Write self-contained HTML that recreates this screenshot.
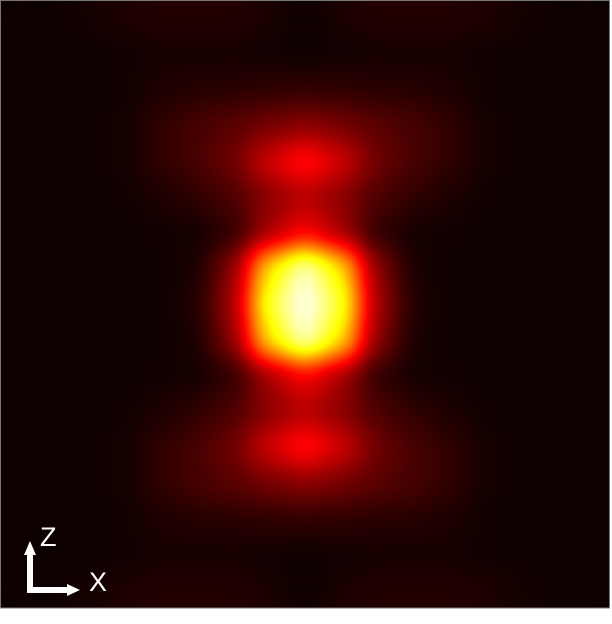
<!DOCTYPE html>
<html><head><meta charset="utf-8"><style>
html,body{margin:0;padding:0;background:#fff;width:612px;height:624px;overflow:hidden}
svg{display:block;overflow:hidden}
text{font-family:"Liberation Sans",sans-serif;fill:#fff}
</style></head><body>
<svg id="chart" width="612" height="624" viewBox="0 0 612 624">
<defs>
<filter id="hotblur" x="0" y="0" width="610" height="608" filterUnits="userSpaceOnUse" color-interpolation-filters="sRGB">
<feGaussianBlur stdDeviation="13" edgeMode="duplicate" result="b"/>
<feComponentTransfer in="b">
<feFuncR id="fr" type="table" tableValues="0 1"/>
<feFuncG id="fg" type="table" tableValues="0 1"/>
<feFuncB id="fb" type="table" tableValues="0 1"/>
<feFuncA type="linear" slope="0" intercept="1"/>
</feComponentTransfer>
</filter>
</defs>
<rect x="0" y="0" width="610" height="608" fill="#0a0000"/>
<g id="cells" filter="url(#hotblur)"></g>
<rect x="0.5" y="0.5" width="609" height="607.5" fill="none" stroke="#777" stroke-width="1"/>
<g>
<rect x="27" y="553" width="6" height="40" fill="#fff"/>
<polygon points="30,541 24,555 36,555" fill="#fff"/>
<rect x="27" y="587" width="42" height="6" fill="#fff"/>
<polygon points="80,590 67,584 67,596" fill="#fff"/>
<text x="40" y="546" font-size="27">Z</text>
<text x="89" y="591" font-size="27">X</text>
</g>
</svg>
<script>
// Intensity grid (17 columns x 17 rows), values 0..1
const rows=[
[0.02,0.02,0.03,0.045,0.05,0.05,0.05,0.04,0.02,0.04,0.05,0.05,0.05,0.045,0.03,0.02,0.02],
[0.02,0.02,0.02,0.025,0.03,0.03,0.03,0.025,0.02,0.025,0.03,0.03,0.03,0.025,0.02,0.02,0.02],
[0.02,0.02,0.02,0.025,0.045,0.055,0.06,0.065,0.065,0.065,0.06,0.055,0.045,0.025,0.02,0.02,0.02],
[0.02,0.02,0.02,0.03,0.07,0.1,0.13,0.17,0.2,0.17,0.13,0.1,0.07,0.03,0.02,0.02,0.02],
[0.02,0.02,0.02,0.03,0.07,0.1,0.16,0.3,0.4,0.3,0.16,0.1,0.07,0.03,0.02,0.02,0.02],
[0.02,0.02,0.02,0.025,0.045,0.07,0.11,0.2,0.26,0.2,0.11,0.07,0.045,0.025,0.02,0.02,0.02],
[0.02,0.02,0.02,0.02,0.025,0.03,0.07,0.24,0.36,0.24,0.07,0.03,0.025,0.02,0.02,0.02,0.02],
[0.02,0.02,0.02,0.02,0.02,0.04,0.2,0.7,0.94,0.7,0.2,0.04,0.02,0.02,0.02,0.02,0.02],
[0.02,0.02,0.02,0.02,0.02,0.05,0.24,0.8,1.0,0.8,0.24,0.05,0.02,0.02,0.02,0.02,0.02],
[0.02,0.02,0.02,0.02,0.02,0.04,0.2,0.7,0.94,0.7,0.2,0.04,0.02,0.02,0.02,0.02,0.02],
[0.02,0.02,0.02,0.02,0.025,0.03,0.07,0.24,0.36,0.24,0.07,0.03,0.025,0.02,0.02,0.02,0.02],
[0.02,0.02,0.02,0.025,0.045,0.07,0.11,0.2,0.26,0.2,0.11,0.07,0.045,0.025,0.02,0.02,0.02],
[0.02,0.02,0.02,0.03,0.07,0.1,0.16,0.3,0.4,0.3,0.16,0.1,0.07,0.03,0.02,0.02,0.02],
[0.02,0.02,0.02,0.03,0.07,0.1,0.13,0.17,0.2,0.17,0.13,0.1,0.07,0.03,0.02,0.02,0.02],
[0.02,0.02,0.02,0.025,0.045,0.055,0.06,0.065,0.065,0.065,0.06,0.055,0.045,0.025,0.02,0.02,0.02],
[0.02,0.02,0.02,0.025,0.03,0.03,0.03,0.025,0.02,0.025,0.03,0.03,0.03,0.025,0.02,0.02,0.02],
[0.02,0.02,0.03,0.045,0.05,0.05,0.05,0.04,0.02,0.04,0.05,0.05,0.05,0.045,0.03,0.02,0.02]
];
const nCols=17, nRows=17;
const W=610, H=608;
function xScale(i){return i*W/nCols;}
function yScale(j){return j*H/nRows;}
const c=x=>Math.max(0,Math.min(1,x));
const N=101, tr=[],tg=[],tb=[];
for(let k=0;k<N;k++){const v=k/(N-1);tr.push(c(v/0.365).toFixed(3));tg.push(c((v-0.365)/0.375).toFixed(3));tb.push(c((v-0.746)/0.254).toFixed(3));}
document.getElementById('fr').setAttribute('tableValues',tr.join(' '));
document.getElementById('fg').setAttribute('tableValues',tg.join(' '));
document.getElementById('fb').setAttribute('tableValues',tb.join(' '));
function gray(v){const q=Math.round(c(v)*255);return `rgb(${q},${q},${q})`;}
const g=document.getElementById('cells');
const NS='http://www.w3.org/2000/svg';
rows.forEach((row,j)=>row.forEach((v,i)=>{
  const r=document.createElementNS(NS,'rect');
  const x0=xScale(i),x1=xScale(i+1),y0=yScale(j),y1=yScale(j+1);
  r.setAttribute('x',x0);r.setAttribute('y',y0);
  r.setAttribute('width',Math.min(W,x1+0.5)-x0);r.setAttribute('height',Math.min(H,y1+0.5)-y0);
  r.setAttribute('fill',gray(v));
  
  
  g.appendChild(r);
}));
</script>
</body></html>
